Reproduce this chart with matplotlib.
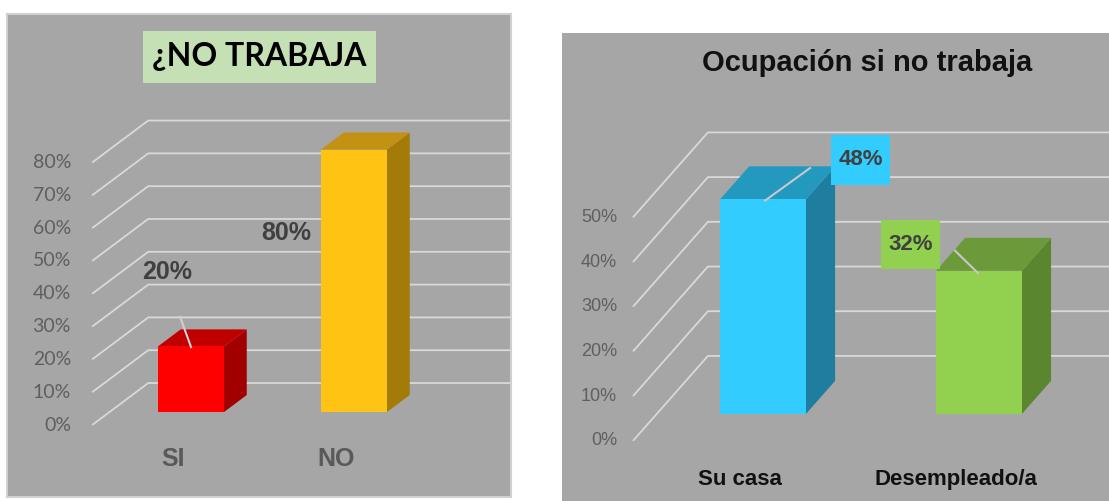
import numpy as np
import matplotlib.pyplot as plt
from matplotlib.patches import Polygon, Rectangle

# ---- left chart data ----
left_title = '¿NO TRABAJA'
left_cats = ['SI', 'NO']
left_vals = [20, 80]
left_ticks = [0, 10, 20, 30, 40, 50, 60, 70, 80]
left_labels = ['20%', '80%']

# ---- right chart data ----
right_title = 'Ocupación si no trabaja'
right_cats = ['Su casa', 'Desempleado/a']
right_vals = [48, 32]
right_ticks = [0, 10, 20, 30, 40, 50]
right_labels = ['48%', '32%']

PANEL = '#a6a6a6'
GRID = '#d9d9d9'
ARIAL = ['Liberation Sans', 'DejaVu Sans']


def proj(x, v, d, g):
    # oblique projection, relative to the bar front plane
    return (x + (d - g['d0']) * g['DX'], v + (d - g['d0']) * g['DY'])


def draw_grid(ax, ticks, g):
    for t in ticks:
        pts = [proj(g['gx0'], t, 0, g), proj(g['gx0'], t, 1, g), proj(g['gx1'], t, 1, g)]
        xs, ys = zip(*pts)
        ax.plot(xs, ys, color=GRID, lw=1.3, zorder=1, solid_capstyle='butt')


def draw_bar(ax, x, v, g, front, top, side):
    w = g['w'] / 2
    d0, d1 = g['d0'], g['d1']
    fpts = [(x - w, 0), (x + w, 0), (x + w, v), (x - w, v)]
    spts = [proj(x + w, 0, d0, g), proj(x + w, 0, d1, g), proj(x + w, v, d1, g), proj(x + w, v, d0, g)]
    tpts = [proj(x - w, v, d0, g), proj(x + w, v, d0, g), proj(x + w, v, d1, g), proj(x - w, v, d1, g)]
    ax.add_patch(Polygon(spts, closed=True, fc=side, ec='none', zorder=3))
    ax.add_patch(Polygon(tpts, closed=True, fc=top, ec='none', zorder=3))
    ax.add_patch(Polygon(fpts, closed=True, fc=front, ec='none', zorder=4))


def setup_ax(ax, xlim, ylim, border):
    ax.set_facecolor(PANEL)
    ax.set_xlim(*xlim)
    ax.set_ylim(*ylim)
    ax.set_xticks([])
    ax.set_yticks([])
    for s in ax.spines.values():
        s.set_visible(border)
        s.set_color('#d0d0d0')
        s.set_linewidth(1.5)


fig = plt.figure(figsize=(11.09, 5.01), dpi=100)
fig.patch.set_facecolor('white')

# ================= left chart =================
axL = fig.add_axes([7 / 1109, 1 - 497 / 501, 504 / 1109, 483 / 501])
setup_ax(axL, (-1.129, 1.963), (-25.9, 121.3), True)
gL = dict(DX=0.344, DY=12.8, d0=0.31, d1=0.715, w=0.405, gx0=-0.5, gx1=1.85)
xL = np.arange(len(left_cats))

draw_grid(axL, left_ticks, gL)
for t in left_ticks:
    px, py = proj(gL['gx0'], t, 0, gL)
    axL.text(px - 0.13, py, f'{t}%', ha='right', va='center', fontsize=14,
             color='#5f5f5f', family='Lato')

fronts = ['#ff0000', '#ffc313']
tops = ['#c00000', '#c39212']
sides = ['#a20000', '#a47b08']
for i in range(len(left_cats)):
    draw_bar(axL, xL[i], left_vals[i], gL, fronts[i], tops[i], sides[i])
    axL.text(xL[i] - 0.11, -14.3, left_cats[i], ha='center', va='center',
             fontsize=18, fontweight='bold', color='#595959', family=ARIAL)

# value labels
lab_pos_L = [(-0.147, 42.7), (0.583, 54.6)]
for (lx, ly), s in zip(lab_pos_L, left_labels):
    axL.text(lx, ly, s, ha='center', va='center', fontsize=18, fontweight='bold',
             color='#404040', family=ARIAL, zorder=6)
axL.plot([-0.067, 0.0], [29, 19.8], color='#d0d0d0', lw=1.5, zorder=5)

# title box
axL.add_patch(Rectangle((0.270, 0.857), 0.462, 0.108, transform=axL.transAxes,
                        fc='#c5e0b4', ec='none', zorder=5))
axL.text(0.501, 0.911, left_title, transform=axL.transAxes, ha='center', va='center',
         fontsize=23, fontweight='bold', color='black', family='Lato', zorder=6)

# ================= right chart =================
axR = fig.add_axes([562 / 1109, 0, 547 / 1109, 468 / 501])
setup_ax(axR, (-0.931, 1.602), (-19.5, 85.2), False)
gR = dict(DX=0.347, DY=19.0, d0=0.318, d1=0.706, w=0.398, gx0=-0.492, gx1=2.0)
xR = np.arange(len(right_cats))

draw_grid(axR, right_ticks, gR)
for t in right_ticks:
    px, py = proj(gR['gx0'], t, 0, gR)
    axR.text(px - 0.074, py, f'{t}%', ha='right', va='center', fontsize=13,
             color='#5f5f5f', family=ARIAL)

fronts = ['#33ccff', '#92d050']
tops = ['#2399c0', '#6c9a3a']
sides = ['#1f7e9f', '#5b8630']
for i in range(len(right_cats)):
    draw_bar(axR, xR[i], right_vals[i], gR, fronts[i], tops[i], sides[i])
    axR.text(xR[i] - 0.107, -14.8, right_cats[i], ha='center', va='center',
             fontsize=16, fontweight='bold', color='#111111', family=ARIAL)

lab_pos_R = [(0.451, 56.8), (0.683, 37.8)]
box_cols = ['#33ccff', '#92d050']
for (lx, ly), s, c in zip(lab_pos_R, right_labels, box_cols):
    axR.add_patch(Rectangle((lx - 0.1365, ly - 5.5), 0.273, 11.0, fc=c, ec='none', zorder=6))
    axR.text(lx, ly, s, ha='center', va='center', fontsize=16, fontweight='bold',
             color='#404040', family=ARIAL, zorder=7)
axR.plot([0.009, 0.218], [47.7, 55.0], color='#c8c8c8', lw=1.5, zorder=5)
axR.plot([0.889, 0.995], [36.5, 31.5], color='#c8c8c8', lw=1.5, zorder=5)

axR.text(0.558, 0.936, right_title, transform=axR.transAxes, ha='center', va='center',
         fontsize=21, fontweight='bold', color='#111111', family=ARIAL)

fig.savefig('out.png', dpi=100, facecolor='white')
